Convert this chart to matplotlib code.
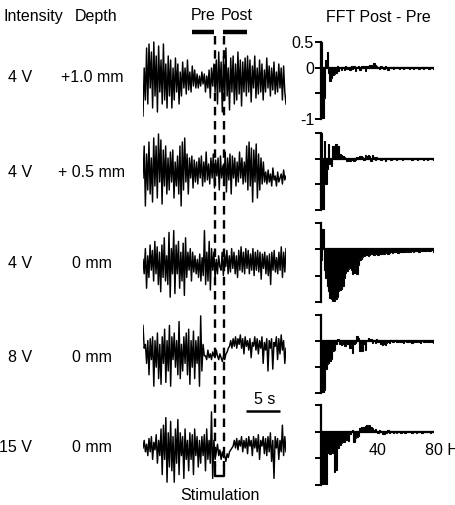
import numpy as np
import matplotlib
matplotlib.use('Agg')
import matplotlib.pyplot as plt

plt.rcParams['font.family'] = ['Liberation Sans', 'DejaVu Sans']
plt.rcParams['font.size'] = 11.5

W, H = 456, 505

intensity = ['4 V', '4 V', '4 V', '8 V', '15 V']
depth = ['+1.0 mm', '+ 0.5 mm', '0 mm', '0 mm', '0 mm']

# time base of the raw traces (s) and stimulation window
trace_len = 21.0
stim_on, stim_off = 10.57, 11.89
pre_win = (7.2, 10.4)
post_win = (11.75, 15.3)
scale_bar = (15.1, 20.1)

# raw traces, arbitrary units
trace_1 = [-0.9, 0.3, -0.5, 0.8, -0.6, 0.9, -0.2, 0.7, -0.7, 0.95, -0.4, 0.6, -0.8, 0.85, -0.3, 0.5,
           -0.6, 0.9, -0.5, 0.4, -0.7, 0.6, -0.4, 0.5, -0.7, 0.3, -0.5, 0.55, -0.3, 0.4, -0.6, 0.2,
           -0.4, 0.45, -0.2, 0.3, -0.35, 0.5, -0.25, 0.2, -0.3, 0.35, -0.15, 0.25, -0.2, 0.15, -0.2,
           0.1, -0.15, 0.2, -0.1, 0.15, -0.3, 0.1, -0.2, 0.25, -0.45, 0.3, -0.15, 0.4, -0.3, 0.5,
           -0.6, 0.7, -0.3, 0.45, -0.8, 0.6, -0.5, 0.8, -0.4, 0.3, -0.75, 0.55, -0.3, 0.6, -0.6, 0.4,
           -0.5, 0.7, -0.35, 0.5, -0.65, 0.45, -0.3, 0.55, -0.4, 0.6, -0.3, 0.5, -0.55, 0.35, -0.2,
           0.6, -0.45, 0.3, -0.35, 0.5, -0.3, 0.4, -0.5, 0.25, -0.3, 0.55, -0.2, 0.35, -0.4, 0.3,
           -0.25, 0.45, -0.35, 0.2, -0.3, 0.4, -0.2, 0.3, -0.5, 0.35, -0.3, -0.6]
trace_2 = [-0.2, 0.6, -0.9, 0.4, -0.5, 0.7, -0.6, 0.3, -0.8, 0.8, -0.4, 0.6, -0.7, 0.9, -0.3, 0.75,
           -0.85, 0.5, -0.4, 0.6, -0.6, 0.3, -0.5, 0.45, -0.3, 0.5, -0.7, 0.2, -0.4, 0.35, -0.6, 0.6,
           -0.9, 0.7, -0.5, 0.8, -0.3, 0.4, -0.6, 0.3, -0.2, 0.35, -0.45, 0.25, -0.3, 0.2, -0.35, 0.3,
           -0.2, 0.35, -0.4, 0.2, -0.3, 0.45, -0.25, 0.15, -0.35, 0.3, -0.2, 0.4, -0.45, 0.25, -0.15,
           0.3, -0.5, 0.35, -0.2, 0.1, -0.3, 0.45, -0.55, 0.3, -0.25, 0.4, -0.6, 0.35, -0.2, 0.3,
           -0.4, 0.2, -0.3, 0.45, -0.2, 0.3, -0.35, 0.2, -0.3, 0.6, -0.5, 0.7, -0.4, 0.55, -0.8, 0.5,
           -0.3, 0.65, -0.7, 0.4, -0.5, 0.3, -0.35, 0.2, -0.3, -0.05, -0.35, 0.0, -0.3, -0.1, -0.4,
           0.05, -0.25, -0.15, -0.4, -0.05, -0.3, -0.2, -0.1, -0.35, 0.0, -0.25, -0.15]
trace_3 = [0.1, -0.3, 0.4, -0.7, 0.2, -0.4, 0.5, -0.2, 0.35, -0.5, 0.6, -0.3, 0.45, -0.6, 0.3, -0.8,
           0.5, -0.4, 0.7, -0.5, 0.2, -0.6, 0.85, -0.95, 0.4, -0.3, 0.9, -0.85, 0.5, -0.3, 0.6, -0.7,
           0.3, -0.5, 0.55, -0.9, 0.7, -0.4, 0.3, -0.2, 0.4, -0.5, 0.3, -0.25, 0.2, -0.3, 0.1, -0.4,
           0.25, -0.5, 0.15, -0.35, 0.9, -0.6, 0.3, -0.5, 0.6, -0.75, 0.4, -0.2, 0.3, -0.45, 0.1,
           -0.3, 0.2, -0.1, -0.2, 0.3, -0.35, 0.25, -0.1, 0.35, -0.3, 0.2, -0.25, 0.4, -0.15, 0.3,
           -0.3, 0.2, -0.4, 0.35, -0.2, 0.45, -0.25, 0.3, -0.3, 0.4, -0.15, 0.35, -0.3, 0.25, -0.2,
           0.4, -0.35, 0.3, -0.2, 0.35, -0.25, 0.3, -0.45, 0.25, -0.15, 0.3, -0.3, 0.2, -0.35, 0.25,
           -0.6, 0.3, -0.2, 0.35, -0.25, 0.15, -0.3, 0.3, -0.2, 0.45, -0.4, 0.3, -0.25, 0.4]
trace_4 = [0.7, 0.1, 0.2, -0.3, 0.3, -0.6, 0.35, -0.2, 0.4, -0.9, 0.3, -0.4, 0.5, -0.7, 0.2, -0.85,
           0.4, -0.3, 0.6, -0.8, 0.3, -0.5, 0.7, -0.9, 0.4, -0.2, 0.5, -0.4, 0.3, -0.6, 0.8, -0.7,
           0.2, -0.5, 0.4, -0.3, 0.5, -0.6, 0.6, -0.85, 0.3, -0.4, 0.55, -0.7, 0.3, -0.3, 0.4, -0.9,
           0.95, -0.5, 0.2, -0.1, -0.1, -0.2, 0.05, -0.15, -0.05, -0.2, 0.0, -0.1, -0.15, 0.05, -0.1,
           -0.2, -0.05, -0.15, -0.25, -0.1, -0.2, -0.05, 0.0, 0.1, 0.15, 0.3, 0.1, 0.35, 0.15, 0.4,
           0.1, 0.35, 0.2, 0.45, 0.1, 0.35, -0.05, 0.4, 0.15, 0.3, 0.05, 0.35, -0.15, 0.25, 0.15, 0.4,
           0.05, 0.35, -0.05, 0.3, 0.1, 0.4, -0.3, 0.25, 0.05, 0.35, -0.5, 0.3, 0.1, 0.35, -0.45, 0.25,
           0.15, 0.4, -0.2, 0.35, -0.05, 0.45, 0.05, 0.3, -0.3, 0.1]
trace_5 = [0.0, 0.2, -0.1, 0.1, -0.2, 0.25, -0.1, 0.3, -0.3, 0.15, -0.05, 0.35, -0.4, 0.2, -0.2,
           0.5, -0.7, 0.6, -0.3, 0.8, -0.9, 0.4, -0.5, 0.7, -0.6, 0.3, -0.9, 0.5, -0.4, 0.75, -0.7,
           0.4, -0.2, 0.3, -0.8, 0.5, -0.3, 0.2, -0.6, 0.4, -0.3, 0.35, -0.7, 0.5, -0.2, 0.3, -0.5,
           0.2, -0.4, 0.3, -0.2, 0.35, -0.6, 0.5, -0.3, 0.2, -0.4, 0.95, -0.8, 0.2, -0.3, -0.1, 0.1,
           -0.2, -0.05, -0.3, -0.1, -0.25, -0.2, -0.35, -0.15, -0.25, -0.1, -0.05, 0.0, 0.05, 0.2,
           0.0, 0.25, -0.05, 0.2, 0.05, 0.3, -0.1, 0.2, 0.0, 0.25, -0.15, 0.3, 0.05, 0.2, -0.2, 0.3,
           0.0, 0.25, -0.1, 0.35, -0.3, 0.2, 0.05, 0.3, -0.15, 0.25, -0.2, 0.3, -0.1, 0.4, -0.35,
           0.2, -0.8, 0.3, 0.0, 0.25, -0.3, 0.2, -0.1, 0.6, -0.2, 0.3, -0.1]
traces = [trace_1, trace_2, trace_3, trace_4, trace_5]

# FFT difference (post - pre), 1 Hz bins from 0 to 80 Hz
fft_1 = [0.5, -1.0, -0.6, 0.15, 0.3, -0.1, -0.25, -0.2, -0.15, -0.12, -0.1, 0.03, -0.06, 0.02, -0.04,
         0.02, -0.05, 0.03, -0.03, 0.02, -0.04, 0.03, -0.02, 0.04, -0.06, 0.02, 0.03, -0.05, 0.04,
         0.02, 0.03, -0.07, 0.04, 0.03, 0.05, 0.06, 0.04, 0.1, 0.05, 0.03, 0.02, -0.03, 0.03, 0.02,
         -0.02, 0.03, 0.02, -0.04, 0.02, 0.01, 0.02, -0.03, 0.02, 0.01, 0.02, -0.02, 0.01, 0.02,
         -0.03, 0.01, 0.02, 0.01, -0.02, 0.01, 0.02, -0.03, 0.01, 0.01, 0.02, -0.02, 0.01, 0.01,
         -0.03, 0.01, 0.02, 0.01, -0.02, 0.01, 0.01, -0.03]
fft_2 = [0.5, -1.0, 0.35, -0.5, -0.2, 0.28, -0.11, -0.15, 0.25, 0.22, 0.28, 0.2, 0.25, 0.1, 0.08,
         0.06, 0.04, 0.02, -0.04, 0.02, -0.05, -0.03, 0.02, -0.04, -0.02, 0.03, 0.02, 0.06, 0.05,
         0.04, -0.03, 0.07, 0.05, 0.08, 0.06, -0.05, 0.07, 0.04, -0.03, 0.03, 0.02, 0.01, -0.02,
         0.02, 0.01, -0.04, 0.01, 0.02, 0.01, -0.02, 0.01, 0.01, 0.02, -0.03, 0.01, 0.01, 0.01,
         -0.02, 0.01, 0.01, 0.02, -0.01, 0.01, 0.01, -0.03, 0.01, 0.01, 0.01, -0.02, 0.01, 0.01,
         0.01, -0.02, 0.01, 0.01, -0.02, 0.01, 0.01, 0.0, -0.02]
fft_3 = [-0.2, 0.38, -0.4, -0.55, -0.7, -0.8, -0.92, -0.95, -0.98, -0.99, -0.95, -0.9, -0.8, -0.78,
         -0.75, -0.7, -0.55, -0.45, -0.42, -0.37, -0.36, -0.4, -0.47, -0.45, -0.35, -0.47, -0.3,
         -0.2, -0.18, -0.15, -0.12, -0.11, -0.1, -0.12, -0.1, -0.09, -0.09, -0.1, -0.08, -0.09,
         -0.1, -0.08, -0.09, -0.07, -0.08, -0.07, -0.06, -0.08, -0.07, -0.06, -0.07, -0.06, -0.05,
         -0.06, -0.07, -0.05, -0.06, -0.05, -0.06, -0.05, -0.04, -0.05, -0.04, -0.05, -0.04, -0.06,
         -0.04, -0.03, -0.04, -0.05, -0.03, -0.04, -0.03, -0.04, -0.03, -0.02, -0.04, -0.03, -0.02,
         -0.05]
fft_4 = [-0.98, -1.0, -0.95, -0.53, -0.45, -0.43, -0.38, -0.34, -0.2, -0.18, -0.05, 0.04, 0.03,
         -0.05, -0.08, -0.05, -0.1, -0.09, -0.06, -0.05, -0.13, -0.08, -0.23, -0.05, -0.03, 0.09,
         0.05, -0.2, -0.05, -0.2, -0.05, -0.18, 0.02, 0.06, 0.04, 0.03, -0.03, 0.02, -0.04, 0.04,
         -0.02, 0.02, -0.05, -0.08, -0.06, -0.07, -0.04, -0.02, -0.03, 0.01, -0.02, -0.01, 0.01,
         -0.02, -0.01, 0.0, -0.02, -0.01, -0.03, 0.0, -0.01, -0.02, 0.01, -0.01, -0.03, 0.0, -0.01,
         -0.02, 0.0, -0.01, -0.03, 0.0, -0.01, -0.02, 0.0, -0.01, -0.02, 0.0, -0.01, -0.04]
fft_5 = [-1.0, -1.0, -0.98, -1.0, -0.38, -0.4, -0.42, -0.38, -0.4, -0.75, -0.72, -0.31, -0.3, -0.25,
         -0.22, -0.19, -0.2, -0.16, -0.15, -0.17, -0.05, 0.02, 0.04, -0.19, -0.12, -0.1, -0.08,
         0.06, 0.09, 0.05, 0.08, 0.1, 0.12, 0.1, 0.12, 0.08, 0.06, 0.04, 0.05, 0.02, -0.03, 0.03,
         0.02, -0.05, -0.04, 0.02, -0.02, 0.03, -0.03, 0.01, 0.02, -0.02, 0.01, -0.03, 0.02, 0.01,
         -0.02, 0.01, 0.0, -0.03, 0.01, 0.02, -0.01, 0.01, -0.02, 0.0, 0.01, -0.03, 0.01, 0.0, 0.01,
         -0.02, 0.01, 0.0, -0.01, 0.01, 0.0, -0.02, 0.01, 0.0]
ffts = [fft_1, fft_2, fft_3, fft_4, fft_5]
fft_max_hz = 80

# layout, in pixels of the 456x505 figure
row_y = [78, 172, 263, 357, 448]
trace_band = [(40, 120), (130, 210), (227, 299), (314, 390), (410, 486)]
fft_band = [(42, 119), (133, 210), (223, 302), (315, 393), (405, 485)]
trace_x = (143, 286)
fft_x = (321, 434)

fig = plt.figure(figsize=(W / 100, H / 100), dpi=100)


def px_axes(x0, y0, x1, y1):
    return fig.add_axes([x0 / W, 1 - y1 / H, (x1 - x0) / W, (y1 - y0) / H])


def fig_text(x, y, s, **kw):
    fig.text(x / W, 1 - y / H, s, va='center', **kw)


fig_text(33, 17, 'Intensity', ha='center')
fig_text(96, 17, 'Depth', ha='center')
fig_text(378, 17, 'FFT Post - Pre', ha='center')

for i in range(5):
    fig_text(32, row_y[i], intensity[i], ha='right')
    fig_text(92, row_y[i], depth[i], ha='center')

    # raw trace
    ax = px_axes(trace_x[0], trace_band[i][0], trace_x[1], trace_band[i][1])
    t = np.linspace(0, trace_len, len(traces[i]))
    ax.plot(t, traces[i], color='black', lw=1.05)
    ax.set_xlim(0, trace_len)
    ax.set_ylim(-1, 1)
    ax.axis('off')

    # FFT difference
    ax = px_axes(fft_x[0], fft_band[i][0], fft_x[1], fft_band[i][1])
    edges = np.arange(len(ffts[i]) + 1) * fft_max_hz / len(ffts[i])
    ax.stairs(ffts[i], edges, baseline=0, fill=True, color='black', lw=0)
    ax.stairs(ffts[i], edges, baseline=0, color='black', lw=0.8)
    ax.hlines(0, 0, fft_max_hz, color='black', lw=1.6)
    ax.set_xlim(0, fft_max_hz)
    ax.set_ylim(-1, 0.5)
    for s in ['top', 'right', 'bottom']:
        ax.spines[s].set_visible(False)
    ax.spines['left'].set_linewidth(1.6)
    ax.spines['left'].set_bounds(-1, 0.5)
    ax.set_xticks([])
    ax.set_yticks([0.5, 0, -0.5, -1])
    ax.tick_params(axis='y', length=4, width=1.4, pad=1)
    if i == 0:
        ax.set_yticklabels(['0.5', '0', '', '-1'])
    else:
        ax.set_yticklabels([])
    ax.patch.set_alpha(0)
    if i == 4:
        ax.annotate('40', xy=(40, 0), xytext=(0, -8), textcoords='offset points',
                    ha='center', va='top')
        ax.annotate('80 Hz', xy=(80, 0), xytext=(-6.3, -8), textcoords='offset points',
                    ha='left', va='top', annotation_clip=False)

# overlay for the stimulation marks, time on x, figure pixels on y
ov = px_axes(trace_x[0], 0, trace_x[1], H)
ov.set_xlim(0, trace_len)
ov.set_ylim(H, 0)
ov.axis('off')
ov.patch.set_alpha(0)

dash = (0, (3.6, 2.4))
for ts in (stim_on, stim_off):
    ov.plot([ts, ts], [36, 466], color='black', lw=1.7, linestyle=dash)
ov.plot([stim_on, stim_on, stim_off, stim_off], [466, 476, 476, 466], color='black', lw=1.7)

ov.hlines(32, *pre_win, color='black', lw=3.2)
ov.hlines(32, *post_win, color='black', lw=3.2)
ov.text(np.mean(pre_win), 15, 'Pre', ha='center', va='center')
ov.text(np.mean(post_win) + 0.3, 15, 'Post', ha='center', va='center')

ov.hlines(411, *scale_bar, color='black', lw=1.8)
ov.text(np.mean(scale_bar) + 0.3, 399, '5 s', ha='center', va='center')
ov.text((stim_on + stim_off) / 2, 496, 'Stimulation', ha='center', va='center')

fig.savefig('out.png', dpi=100)
